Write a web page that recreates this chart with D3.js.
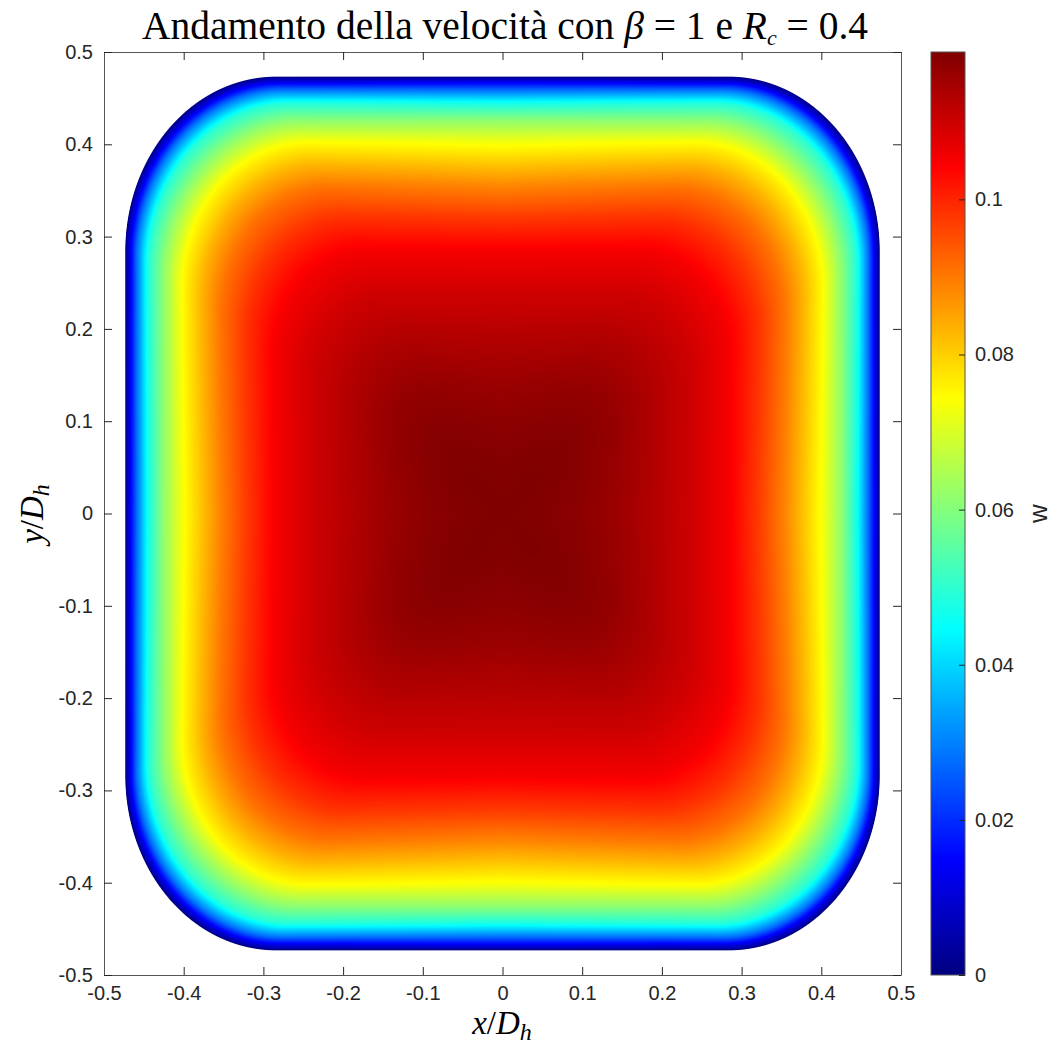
<!DOCTYPE html>
<html>
<head>
<meta charset="utf-8">
<script src="https://cdn.jsdelivr.net/npm/d3@7"></script>
<style>
  body { margin: 0; background: #fff; }
  text { font-family: "Liberation Sans", Arial, sans-serif; fill: #262626; }
  .math { font-family: "Liberation Serif", "Times New Roman", serif; fill: #000; }
</style>
</head>
<body>
<div id="chart"></div>
<script>
// tick labels
var xTicks = [-0.5, -0.4, -0.3, -0.2, -0.1, 0, 0.1, 0.2, 0.3, 0.4, 0.5];
var yTicks = [-0.5, -0.4, -0.3, -0.2, -0.1, 0, 0.1, 0.2, 0.3, 0.4, 0.5];
var cbTicks = [0, 0.02, 0.04, 0.06, 0.08, 0.1];
var wMax = 0.119;

// duct section (x/Dh units)
var halfSide = 0.4733;
var cornerR = 0.1893;

// velocity read along rays from the centre (rho = 0) to the wall (rho = 1)
var rhoNodes = [0, 0.1, 0.2, 0.3, 0.4, 0.5, 0.6, 0.68, 0.75, 0.8, 0.85, 0.9, 0.94, 0.97, 0.99, 1];
var wAxis = [0.119, 0.1187, 0.1176, 0.1159, 0.1131, 0.1099, 0.1052, 0.0972, 0.0885, 0.0810, 0.0730, 0.0612, 0.0466, 0.0270, 0.0115, 0];
var wDiag = [0.119, 0.119, 0.1184, 0.1166, 0.1135, 0.1100, 0.1054, 0.0986, 0.0911, 0.0837, 0.0749, 0.0607, 0.0491, 0.0280, 0.0090, 0];

// jet colormap
var jetPos = [0, 1/8, 3/8, 5/8, 7/8, 1];
var jetColors = ["#000080", "#0000ff", "#00ffff", "#ffff00", "#ff0000", "#800000"];

var svg = d3.select("#chart").append("svg")
  .attr("width", 1057)
  .attr("height", 1052);

var xScale = d3.scaleLinear().domain([-0.5, 0.5]).range([104, 901]);
var yScale = d3.scaleLinear().domain([-0.5, 0.5]).range([975, 52]);
var cScale = d3.scaleLinear().domain([0, wMax]).range([975, 52]);

var jet = d3.scaleLinear()
  .domain(jetPos.map(function(t) { return t * wMax; }))
  .range(jetColors)
  .clamp(true);

var axisProfile = d3.scaleLinear().domain(rhoNodes).range(wAxis);
var diagProfile = d3.scaleLinear().domain(rhoNodes).range(wDiag);

// colour lookup table
var lut = d3.range(1024).map(function(k) { return d3.rgb(jet(k / 1023 * wMax)); });

// field image
var x0 = xScale.range()[0], y0 = yScale.range()[1];
var W = Math.round(xScale.range()[1] - x0), H = Math.round(yScale.range()[0] - y0);
var canvas = document.createElement("canvas");
canvas.width = W; canvas.height = H;
var ctx = canvas.getContext("2d");
var img = ctx.createImageData(W, H);
var c = halfSide - cornerR;

for (var j = 0; j < H; j++) {
  for (var i = 0; i < W; i++) {
    var u = Math.abs(xScale.invert(x0 + i + 0.5));
    var v = Math.abs(yScale.invert(y0 + j + 0.5));
    if (v > u) { var t = u; u = v; v = t; }
    var len = Math.hypot(u, v);
    var phi = len > 0 ? Math.atan2(v, u) : 0;
    var cs = Math.cos(phi), sn = Math.sin(phi);
    var L;
    if (halfSide * sn / cs <= c) L = halfSide / cs;
    else {
      var b = c * (cs + sn);
      L = b + Math.sqrt(b * b - 2 * c * c + cornerR * cornerR);
    }
    var rho = len / L;
    var alpha = Math.max(0, Math.min(1, 0.5 - (rho - 1) * L * 860));
    if (alpha <= 0) continue;
    var r = Math.min(rho, 1);
    var f = phi / (Math.PI / 4);
    var w = (1 - f) * axisProfile(r) + f * diagProfile(r);
    var col = lut[Math.max(0, Math.min(1023, Math.round(w / wMax * 1023)))];
    var p = (j * W + i) * 4;
    img.data[p] = col.r; img.data[p + 1] = col.g; img.data[p + 2] = col.b;
    img.data[p + 3] = Math.round(alpha * 255);
  }
}
ctx.putImageData(img, 0, 0);

svg.append("image")
  .attr("x", x0).attr("y", y0)
  .attr("width", W).attr("height", H)
  .attr("href", canvas.toDataURL());

// axes
var fmt = function(d) { return String(d); };

function styleAxis(g) {
  g.attr("font-size", null).attr("font-family", null);
  g.selectAll("path.domain").attr("stroke", "#555").attr("stroke-width", 1);
  g.selectAll(".tick line").attr("stroke", "#262626");
  g.selectAll(".tick text").attr("fill", "#262626")
    .style("font-size", "20px")
    .style("font-family", '"Liberation Sans", Arial, sans-serif');
}

svg.append("g")
  .attr("transform", "translate(0," + yScale.range()[0] + ")")
  .call(d3.axisBottom(xScale).tickValues(xTicks).tickFormat(fmt).tickSize(-8).tickSizeOuter(0).tickPadding(11))
  .call(styleAxis);

svg.append("g")
  .attr("transform", "translate(0," + yScale.range()[1] + ")")
  .call(d3.axisTop(xScale).tickValues(xTicks).tickFormat("").tickSize(-8).tickSizeOuter(0))
  .call(styleAxis);

svg.append("g")
  .attr("transform", "translate(" + xScale.range()[0] + ",0)")
  .call(d3.axisLeft(yScale).tickValues(yTicks).tickFormat(fmt).tickSize(-8).tickSizeOuter(0).tickPadding(11))
  .call(styleAxis);

svg.append("g")
  .attr("transform", "translate(" + xScale.range()[1] + ",0)")
  .call(d3.axisRight(yScale).tickValues(yTicks).tickFormat("").tickSize(-8).tickSizeOuter(0))
  .call(styleAxis);

// colorbar
var cbX = 931, cbW = 34;
var grad = svg.append("defs").append("linearGradient")
  .attr("id", "jetgrad")
  .attr("x1", 0).attr("y1", 1).attr("x2", 0).attr("y2", 0);
grad.selectAll("stop")
  .data(d3.range(0, 1.0001, 1 / 64))
  .enter().append("stop")
  .attr("offset", function(d) { return d; })
  .attr("stop-color", function(d) { return jet(d * wMax); });

svg.append("rect")
  .attr("x", cbX).attr("y", cScale(wMax))
  .attr("width", cbW).attr("height", cScale(0) - cScale(wMax))
  .attr("fill", "url(#jetgrad)")
  .attr("stroke", "#555").attr("stroke-width", 1);

svg.append("g")
  .attr("transform", "translate(" + (cbX + cbW) + ",0)")
  .call(d3.axisRight(cScale).tickValues(cbTicks).tickFormat(fmt).tickSize(-6).tickSizeOuter(0).tickPadding(10))
  .call(styleAxis)
  .call(function(g) { g.select("path.domain").remove(); });

svg.append("text")
  .attr("transform", "translate(1047," + ((cScale(0) + cScale(wMax)) / 2) + ") rotate(-90)")
  .attr("text-anchor", "middle")
  .style("font-size", "26px")
  .text("w");

// title
var title = svg.append("text")
  .attr("class", "math")
  .attr("x", 505).attr("y", 39)
  .attr("text-anchor", "middle")
  .style("font-size", "31px");
title.append("tspan").text("Andamento della velocità con ");
title.append("tspan").style("font-style", "italic").text("β");
title.append("tspan").text(" = 1 e ");
title.append("tspan").style("font-style", "italic").text("R");
title.append("tspan").style("font-style", "italic").style("font-size", "22px").attr("dy", 6).text("c");
title.append("tspan").attr("dy", -6).text(" = 0.4");
var tw = title.node().getComputedTextLength();
title.style("font-size", (31 * 729 / tw) + "px");

// axis labels
var xl = svg.append("text")
  .attr("class", "math")
  .attr("x", 502).attr("y", 1034)
  .attr("text-anchor", "middle")
  .style("font-size", "33px");
xl.append("tspan").style("font-style", "italic").text("x");
xl.append("tspan").text("/");
xl.append("tspan").style("font-style", "italic").text("D");
xl.append("tspan").style("font-style", "italic").style("font-size", "24px").attr("dy", 6).text("h");

var yl = svg.append("text")
  .attr("class", "math")
  .attr("transform", "translate(43,514) rotate(-90)")
  .attr("text-anchor", "middle")
  .style("font-size", "33px");
yl.append("tspan").style("font-style", "italic").text("y");
yl.append("tspan").text("/");
yl.append("tspan").style("font-style", "italic").text("D");
yl.append("tspan").style("font-style", "italic").style("font-size", "24px").attr("dy", 6).text("h");
</script>
</body>
</html>
